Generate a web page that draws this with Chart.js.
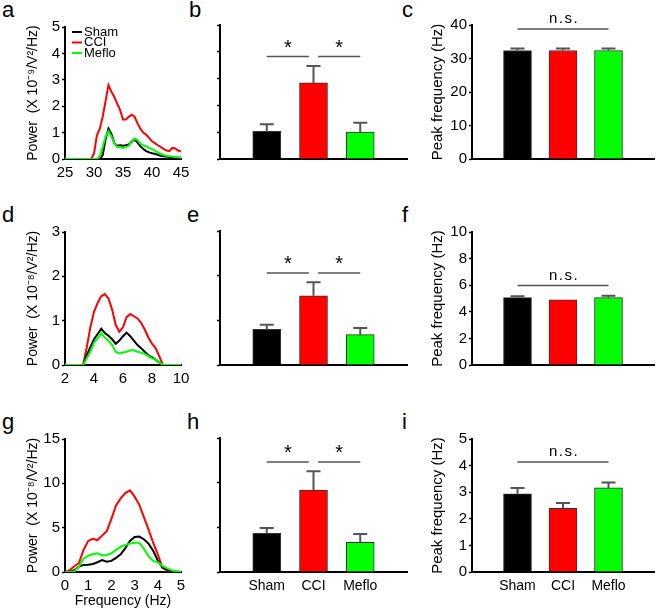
<!DOCTYPE html>
<html>
<head>
<meta charset="utf-8">
<script src="https://cdn.jsdelivr.net/npm/chart.js@4.4.1/dist/chart.umd.min.js"></script>
<style>
  body { margin: 0; background: #fff; width: 660px; height: 611px; position: relative; overflow: hidden;
         font-family: "Liberation Sans", Arial, sans-serif; }
  canvas { position: absolute; }
  .tag { position: absolute; font-size: 22px; line-height: 22px; color: #000; }
</style>
</head>
<body>
<div class="tag" style="left:2px;top:-1px">a</div>
<div class="tag" style="left:189px;top:-1px">b</div>
<div class="tag" style="left:402px;top:-1px">c</div>
<div class="tag" style="left:2px;top:204px">d</div>
<div class="tag" style="left:187px;top:204px">e</div>
<div class="tag" style="left:402px;top:204px">f</div>
<div class="tag" style="left:2px;top:411px">g</div>
<div class="tag" style="left:187px;top:411px">h</div>
<div class="tag" style="left:402px;top:411px">i</div>
<script>
const groups = ["Sham", "CCI", "Meflo"];

// a: 25-45 Hz power spectra (x 10^-9 V^2/Hz)
const freqA = [25, 25.5, 26, 26.5, 27, 27.5, 28, 28.5, 29, 29.5, 30, 30.5, 31, 31.5, 32, 32.5, 33, 33.5, 34, 34.5,
  35, 35.5, 36, 36.5, 37, 37.5, 38, 38.5, 39, 39.5, 40, 40.5, 41, 41.5, 42, 42.5, 43, 43.5, 44, 44.5, 45];
const shamA = [0, 0, 0, 0, 0, 0, 0, 0, 0, 0, 0, 0, 0, 0.15, 0.75, 1.15, 0.95, 0.6, 0.5, 0.52,
  0.5, 0.52, 0.55, 0.65, 0.75, 0.62, 0.48, 0.38, 0.3, 0.25, 0.22, 0.2, 0.16, 0.12, 0.1, 0.09, 0.08, 0.07, 0.06, 0.05, 0.05];
const cciA = [0, 0, 0, 0, 0, 0, 0, 0, 0, 0, 0.2, 0.9, 1.15, 1.6, 2.2, 2.8, 2.55, 2.35, 2.1, 1.85,
  1.5, 1.5, 1.6, 1.68, 1.6, 1.35, 1.15, 1.0, 0.92, 0.8, 0.67, 0.6, 0.52, 0.46, 0.38, 0.32, 0.3, 0.42, 0.4, 0.32, 0.28];
const mefloA = [0, 0, 0, 0, 0, 0, 0, 0, 0, 0, 0, 0, 0.1, 0.45, 0.85, 1.05, 0.85, 0.6, 0.45, 0.45,
  0.42, 0.45, 0.5, 0.68, 0.78, 0.72, 0.58, 0.52, 0.48, 0.42, 0.38, 0.32, 0.25, 0.2, 0.15, 0.12, 0.1, 0.09, 0.08, 0.07, 0.05];

// d: 2-10 Hz power spectra (x 10^-8 V^2/Hz)
const freqD = [2, 2.25, 2.5, 2.75, 3, 3.25, 3.5, 3.75, 4, 4.25, 4.5, 4.75, 5, 5.25, 5.5, 5.75, 6, 6.25, 6.5, 6.75,
  7, 7.25, 7.5, 7.75, 8, 8.25, 8.5, 8.75, 9, 9.25, 9.5, 9.75, 10];
const shamD = [0, 0, 0, 0, 0, 0, 0.22, 0.4, 0.58, 0.7, 0.82, 0.72, 0.66, 0.58, 0.48, 0.55, 0.65, 0.73, 0.65, 0.55,
  0.45, 0.38, 0.3, 0.22, 0.17, 0.12, 0.06, 0, 0, 0, 0, 0, 0];
const cciD = [0, 0, 0, 0, 0, 0, 0.4, 0.85, 1.2, 1.4, 1.55, 1.6, 1.5, 1.25, 0.9, 0.75, 0.85, 1.08, 1.15, 1.1,
  1.05, 0.95, 0.8, 0.62, 0.48, 0.38, 0.2, 0, 0, 0, 0, 0, 0];
const mefloD = [0, 0, 0, 0, 0, 0, 0.15, 0.3, 0.5, 0.6, 0.72, 0.62, 0.55, 0.45, 0.3, 0.26, 0.28, 0.3, 0.33, 0.33,
  0.3, 0.28, 0.25, 0.2, 0.15, 0.12, 0.06, 0, 0, 0, 0, 0, 0];

// g: 0-5 Hz power spectra (x 10^-8 V^2/Hz)
const freqG = [0, 0.2, 0.4, 0.6, 0.8, 1, 1.2, 1.4, 1.6, 1.8, 2, 2.2, 2.4, 2.6, 2.8, 3, 3.2, 3.4, 3.6, 3.8,
  4, 4.2, 4.4, 4.6, 4.8, 5];
const shamG = [0, 0, 0.2, 0.6, 0.8, 0.82, 0.9, 1.1, 1.35, 1.15, 1.25, 1.6, 2.0, 2.7, 3.5, 3.95, 4.0, 3.7, 3.2, 2.4,
  1.3, 0.5, 0.25, 0.1, 0.05, 0];
const cciG = [0, 0.2, 0.65, 1.0, 2.5, 3.5, 3.75, 3.6, 4.1, 4.6, 6.0, 7.5, 8.3, 8.9, 9.2, 8.5, 7.6, 6.2, 4.8, 3.3,
  2.0, 0.5, 0.15, 0.05, 0, 0];
const mefloG = [0, 0, 0.05, 0.6, 1.5, 1.85, 2.0, 2.1, 1.9, 1.9, 2.1, 2.5, 2.85, 3.05, 3.2, 3.3, 3.3, 2.6, 1.8, 1.25,
  1.1, 0.7, 0.4, 0.2, 0.08, 0];

// bar panels: mean and SEM per group
const powerB = [1.03, 2.84, 1.0];
const semB = [0.27, 0.63, 0.35];
const peakC = [32.4, 32.4, 32.4];
const semC = [0.6, 0.6, 0.6];
const powerE = [0.8, 1.55, 0.68];
const semE = [0.1, 0.3, 0.15];
const peakF = [5.07, 4.9, 5.07];
const semF = [0.1, 0, 0.13];
const powerH = [4.33, 9.18, 3.32];
const semH = [0.6, 2.1, 0.93];
const peakI = [2.94, 2.39, 3.16];
const semI = [0.22, 0.2, 0.2];

Chart.defaults.font.family = "'Liberation Sans', Arial, sans-serif";
Chart.defaults.color = "#000";

const colors = ["#000000", "#ff0000", "#00ff00"];
const FONT = "'Liberation Sans', Arial, sans-serif";

// error bars, significance bars and the inline legend
const extrasPlugin = {
  id: "extras",
  afterDatasetsDraw(chart) {
    const ex = chart.canvas.extras || {};
    const { ctx, chartArea } = chart;
    const xs = chart.scales.x, ys = chart.scales.y;
    ctx.save();
    if (ex.sem) {
      const meta = chart.getDatasetMeta(0);
      const pts = chart.data.datasets[0].data;
      ctx.strokeStyle = "#555";
      ctx.lineWidth = 2;
      meta.data.forEach((bar, i) => {
        if (!ex.sem[i]) return;
        const top = ys.getPixelForValue(pts[i].y + ex.sem[i]);
        ctx.beginPath();
        ctx.moveTo(bar.x, bar.y);
        ctx.lineTo(bar.x, top);
        ctx.moveTo(bar.x - 7, top);
        ctx.lineTo(bar.x + 7, top);
        ctx.stroke();
      });
    }
    if (ex.sig) {
      const y = ys.getPixelForValue(ex.sig.at);
      ctx.strokeStyle = "#555";
      ctx.lineWidth = 1.5;
      ctx.fillStyle = "#000";
      ctx.textAlign = "center";
      ctx.textBaseline = "alphabetic";
      ex.sig.spans.forEach(([a, b]) => {
        const x1 = xs.getPixelForValue(a), x2 = xs.getPixelForValue(b);
        ctx.beginPath();
        ctx.moveTo(x1, y);
        ctx.lineTo(x2, y);
        ctx.stroke();
        if (ex.sig.text === "*") {
          ctx.font = "20px " + FONT;
          ctx.fillText("*", (x1 + x2) / 2, y - 3);
        } else {
          ctx.font = "15px " + FONT;
          ctx.letterSpacing = "1.5px";
          ctx.fillText(ex.sig.text, (x1 + x2) / 2 + 1, y - 6);
          ctx.letterSpacing = "0px";
        }
      });
    }
    if (ex.legend) {
      ctx.font = "13px " + FONT;
      ctx.textAlign = "left";
      ctx.textBaseline = "middle";
      chart.data.datasets.forEach((ds, i) => {
        const y = chartArea.top + 5 + i * 10.5;
        ctx.strokeStyle = ds.borderColor;
        ctx.lineWidth = 2;
        ctx.beginPath();
        ctx.moveTo(chartArea.left + 7, y);
        ctx.lineTo(chartArea.left + 17, y);
        ctx.stroke();
        ctx.fillStyle = "#000";
        ctx.fillText(ds.label, chartArea.left + 19, y);
      });
    }
    ctx.restore();
  },
};

// box = canvas [left, top, width, height]; plot = [left, top, right, bottom] on the page
function panel(box, plot, type, datasets, xOpts, yOpts, extras) {
  const canvas = document.createElement("canvas");
  canvas.width = box[2];
  canvas.height = box[3];
  canvas.style.left = box[0] + "px";
  canvas.style.top = box[1] + "px";
  canvas.extras = extras || {};
  document.body.appendChild(canvas);
  return new Chart(canvas, {
    type: type,
    data: { datasets: datasets },
    options: {
      responsive: false,
      animation: false,
      events: [],
      layout: {
        padding: { left: 0, bottom: 0, top: plot[1] - box[1], right: box[0] + box[2] - plot[2] },
      },
      plugins: { legend: { display: false }, tooltip: { enabled: false } },
      scales: {
        x: Object.assign({
          type: "linear",
          offset: false,
          grid: { drawOnChartArea: false, drawTicks: false },
          border: { color: "#000", width: 2 },
          afterFit: (s) => { s.height = box[1] + box[3] - plot[3]; },
        }, xOpts),
        y: Object.assign({
          min: 0,
          grid: { drawOnChartArea: false, drawTicks: true, tickLength: 3, tickColor: "#000", tickWidth: 1.5 },
          border: { color: "#000", width: 2 },
          afterFit: (s) => { s.width = plot[0] - box[0]; },
        }, yOpts),
      },
    },
    plugins: [extrasPlugin],
  });
}

function spectra(freq, sham, cci, meflo) {
  const pts = (ys) => freq.map((f, i) => ({ x: f, y: ys[i] }));
  const line = (label, ys, color, order) => ({
    label: label, data: pts(ys), borderColor: color, borderWidth: 2,
    pointRadius: 0, tension: 0, order: order,
  });
  return [
    line(groups[0], sham, colors[0], 2),
    line(groups[1], cci, colors[1], 3),
    line(groups[2], meflo, colors[2], 1),
  ];
}

function bars(values) {
  return [{
    data: values.map((v, i) => ({ x: i + 1, y: v })),
    backgroundColor: colors,
    borderColor: "#333",
    borderWidth: 1,
    borderSkipped: "bottom",
    barThickness: 28,
  }];
}

function powerTitle(exp) {
  return { display: true, text: "Power  (X 10\u207B" + exp + "/V\u00B2/Hz)", font: { size: 14, lineHeight: 1.2 },
    padding: { top: 25, bottom: 0 } };
}
const peakTitle = { display: true, text: "Peak frequency (Hz)", font: { size: 15, lineHeight: 1.2 },
  padding: { top: 14, bottom: 0 } };

function barX(showNames) {
  return {
    min: 0, max: 4, z: 1,
    ticks: { stepSize: 1, autoSkip: false, maxRotation: 0, font: { size: 14 }, padding: 6,
      callback: (v) => (showNames && groups[v - 1]) || "" },
  };
}

const COL = [[0, 200], [200, 215], [415, 245]];
const ROW = [[0, 200], [200, 200], [400, 211]];
const box = (c, r) => [COL[c][0], ROW[r][0], COL[c][1], ROW[r][1]];

// row 1
panel(box(0, 0), [65, 27, 181, 159], "line", spectra(freqA, shamA, cciA, mefloA),
  { min: 25, max: 45, ticks: { stepSize: 5, font: { size: 15 }, padding: 5, maxRotation: 0 } },
  { max: 5, ticks: { stepSize: 1, font: { size: 15 }, padding: 2 }, title: powerTitle("\u2079") },
  { legend: true });
panel(box(1, 0), [220, 25, 407, 159], "bar", bars(powerB), barX(false),
  { max: 5, ticks: { stepSize: 1, display: false } },
  { sem: semB, sig: { at: 3.82, spans: [[1, 1.9], [2.1, 3]], text: "*" } });
panel(box(2, 0), [472, 25, 658, 159], "bar", bars(peakC), barX(false),
  { max: 40, ticks: { stepSize: 10, font: { size: 15 }, padding: 2 }, title: peakTitle },
  { sem: semC, sig: { at: 38.8, spans: [[1, 3]], text: "n.s." } });

// row 2
panel(box(0, 1), [65, 232, 181, 365], "line", spectra(freqD, shamD, cciD, mefloD),
  { min: 2, max: 10, ticks: { stepSize: 2, font: { size: 15 }, padding: 5, maxRotation: 0 } },
  { max: 3, ticks: { stepSize: 1, font: { size: 15 }, padding: 2 }, title: powerTitle("\u2078") });
panel(box(1, 1), [220, 231, 407, 365], "bar", bars(powerE), barX(false),
  { max: 3, ticks: { stepSize: 1, display: false } },
  { sem: semE, sig: { at: 2.06, spans: [[1, 1.9], [2.1, 3]], text: "*" } });
panel(box(2, 1), [472, 232, 658, 365], "bar", bars(peakF), barX(false),
  { max: 10, ticks: { stepSize: 2, font: { size: 15 }, padding: 2 }, title: peakTitle },
  { sem: semF, sig: { at: 5.97, spans: [[1, 3]], text: "n.s." } });

// row 3
panel(box(0, 2), [65, 439, 181, 572], "line", spectra(freqG, shamG, cciG, mefloG),
  { min: 0, max: 5, ticks: { stepSize: 1, font: { size: 15 }, padding: 5, maxRotation: 0 },
    title: { display: true, text: "Frequency (Hz)", font: { size: 14, lineHeight: 1.2 }, padding: { top: 0, bottom: 1 } } },
  { max: 15, ticks: { stepSize: 5, font: { size: 15 }, padding: 2 }, title: powerTitle("\u2078") });
panel(box(1, 2), [220, 438, 407, 572], "bar", bars(powerH), barX(true),
  { max: 15, ticks: { stepSize: 5, display: false } },
  { sem: semH, sig: { at: 12.3, spans: [[1, 1.9], [2.1, 3]], text: "*" } });
panel(box(2, 2), [472, 439, 658, 572], "bar", bars(peakI), barX(true),
  { max: 5, ticks: { stepSize: 1, font: { size: 15 }, padding: 2 }, title: peakTitle },
  { sem: semI, sig: { at: 4.14, spans: [[1, 3]], text: "n.s." } });
</script>
</body>
</html>
